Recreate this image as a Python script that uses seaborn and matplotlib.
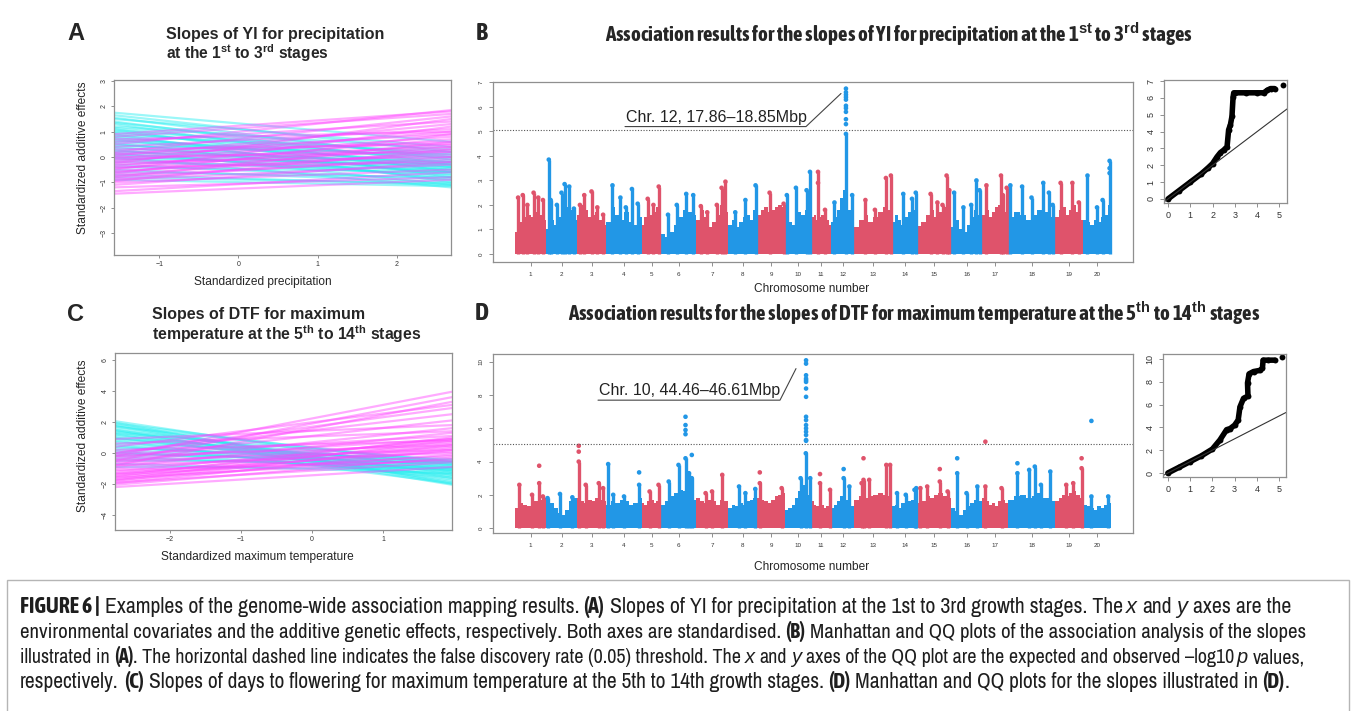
import numpy as np
import pandas as pd
import matplotlib
matplotlib.use("Agg")
import matplotlib.pyplot as plt
import seaborn as sns
from matplotlib import font_manager
from matplotlib.font_manager import FontProperties
from matplotlib.patches import Rectangle

W, H = 1356, 711

# --- PANEL A / C : reaction norms (effect at the two ends of the covariate range) ---
A_ENV = [-1.57, 2.68]
A_NEG_LEFT = [1.75, 1.65, 1.55, 1.5, 1.4, 1.35, 1.3, 1.2, 1.15, 1.1, 1.05, 1.0, 0.95, 0.9, 0.85,
              0.8, 0.75, 0.7, 0.65, 0.6, 0.55, 0.5, 0.45, 0.4, 0.35, 0.3, 0.25, 0.2, 0.15, 0.1,
              0.05, 0.0, -0.05, -0.1, -0.2, -0.3, -0.4, -0.5, -0.6, -0.7, -0.8, -0.9]
A_NEG_RIGHT = [0.6, 0.2, -0.1, 0.4, -0.3, 0.0, -0.6, 0.3, -0.2, -0.8, 0.1, -0.4, -0.1, -1.0, 0.2,
               -0.5, -0.3, -0.7, 0.0, -0.2, -0.9, -0.4, 0.1, -0.6, -0.3, -1.1, -0.5, -0.2, -0.8, -0.4,
               -0.6, -1.2, -0.3, -0.7, -0.5, -0.9, -0.6, -1.0, -0.8, -1.1, -1.05, -1.15]
A_POS_LEFT = [-1.45, -1.35, -1.2, -1.1, -1.0, -0.95, -0.9, -0.85, -0.8, -0.75, -0.7, -0.65, -0.6,
              -0.55, -0.5, -0.45, -0.4, -0.35, -0.3, -0.25, -0.2, -0.15, -0.1, -0.05, 0.0, 0.05,
              0.1, 0.15, 0.2, 0.3, 0.4, 0.5, 0.6, 0.7, 0.8, 0.9]
A_POS_RIGHT = [-0.9, -0.6, -0.8, -0.2, -0.5, 0.3, -0.3, 0.0, 0.6, -0.1, 0.2, 0.9, 0.4, 0.1, 1.2,
               0.5, -0.2, 0.7, 0.3, 1.5, 0.0, 0.8, 0.4, 1.0, 0.2, 1.3, 0.6, 0.9, 1.6, 0.5, 1.1,
               1.85, 1.4, 1.0, 1.7, 1.8]

C_ENV = [-2.77, 1.97]
C_NEG_LEFT = [2.05, 1.95, 1.9, 1.8, 1.75, 1.7, 1.6, 1.5, 1.45, 1.4, 1.3, 1.25, 1.2, 1.1, 1.0, 0.95,
              0.9, 0.8, 0.7, 0.6, 0.5, 0.4, 0.3, 0.2, 0.1, 0.0, -0.1, -0.2, -0.35, -0.5, -0.7, -0.9]
C_NEG_RIGHT = [-1.2, -2.0, -0.8, -1.6, -1.9, -0.6, -1.4, -2.05, -1.0, -1.7, -0.5, -1.3, -1.8, -0.9,
               -1.5, -0.7, -1.1, -1.95, -0.6, -1.2, -1.6, -0.8, -0.4, -1.0, -1.4, -0.7, -0.5, -1.1,
               -0.9, -0.6, -1.3, -1.0]
C_POS_LEFT = [-2.2, -2.05, -1.95, -1.9, -1.8, -1.75, -1.7, -1.6, -1.55, -1.5, -1.4, -1.35, -1.3,
              -1.2, -1.1, -1.0, -0.9, -0.8, -0.7, -0.6, -0.5, -0.4, -0.3, -0.2, -0.1, 0.0, 0.2,
              0.4, 0.6, 0.9, -0.5, -0.2, 0.0, -0.8]
C_POS_RIGHT = [-0.9, -0.3, 0.2, -0.6, 0.5, -0.1, 0.8, -0.4, 0.3, 1.0, -0.2, 0.6, 0.1, 0.9, -0.5,
               0.4, 1.3, 0.0, 0.7, 1.6, 0.2, 0.9, 2.1, 0.5, 1.1, 2.5, 0.8, 3.1, 1.4, 1.8, 3.6,
               3.95, 2.9, 3.3]

# --- MANHATTAN : chromosome sizes (SNP index units) ---
CHROMS = list(range(1, 21))
CHR_WIDTH = [31, 31, 29, 36, 19, 35, 32, 29, 28, 26, 20, 23, 38, 25, 34, 31, 26, 47, 28, 28]

# top of the dense -log10 p cloud along each chromosome (8 segments each)
B_BULK = [[0.9, 1.3, 1.5, 1.6, 1.5, 1.7, 1.6, 1.4], [1.0, 1.4, 1.2, 1.5, 1.7, 1.9, 1.8, 1.4],
          [1.6, 2.0, 1.8, 1.5, 1.6, 1.7, 1.4, 1.2], [1.3, 1.9, 1.6, 1.4, 1.7, 1.3, 1.2, 1.5],
          [1.2, 1.5, 1.4, 1.6, 1.8, 1.7, 1.9, 1.3], [0.8, 0.7, 0.9, 1.2, 1.5, 1.8, 1.7, 1.6],
          [1.4, 1.8, 1.5, 1.1, 1.3, 1.6, 2.0, 1.7], [1.2, 1.4, 1.1, 1.3, 1.5, 1.6, 1.4, 1.8],
          [1.6, 1.8, 1.9, 1.7, 1.8, 1.9, 2.0, 1.9], [1.0, 1.3, 1.2, 1.5, 1.7, 1.6, 1.8, 1.9],
          [1.5, 1.6, 1.4, 1.5, 1.6, 1.3, 1.4, 1.2], [1.3, 1.5, 1.8, 2.3, 2.6, 2.2, 1.8, 1.4],
          [1.1, 1.4, 1.6, 1.3, 1.5, 1.7, 1.9, 1.8], [1.3, 1.6, 1.4, 1.2, 1.5, 1.7, 1.6, 1.8],
          [1.15, 1.3, 1.6, 1.8, 1.5, 1.7, 1.9, 1.6], [1.1, 1.4, 1.0, 0.9, 1.2, 1.5, 1.8, 1.6],
          [1.6, 1.8, 1.5, 1.7, 1.9, 2.0, 1.8, 1.7], [1.5, 1.7, 1.6, 1.4, 1.6, 1.8, 1.7, 1.5],
          [1.5, 1.8, 1.9, 1.6, 1.8, 2.0, 1.7, 1.4], [1.4, 1.3, 1.2, 1.4, 1.3, 1.5, 1.6, 2.0]]
# spikes: (relative position in chromosome, -log10 p)
B_SPIKES = [
    [(0.1, 2.3), (0.25, 2.4), (0.4, 2.0), (0.6, 2.5), (0.75, 2.3), (0.9, 2.2)],
    [(0.09, 3.85), (0.15, 2.2), (0.35, 2.0), (0.5, 2.5), (0.6, 2.85), (0.75, 2.75), (0.9, 1.85)],
    [(0.1, 2.0), (0.25, 2.4), (0.5, 2.55), (0.7, 1.9), (0.9, 1.6)],
    [(0.18, 2.8), (0.4, 2.3), (0.55, 1.9), (0.72, 2.65), (0.88, 2.05)],
    [(0.3, 2.25), (0.6, 2.0), (0.88, 2.75)],
    [(0.2, 1.6), (0.45, 2.0), (0.72, 2.45), (0.92, 2.4)],
    [(0.15, 1.95), (0.35, 1.7), (0.65, 2.0), (0.8, 2.7), (0.92, 2.95)],
    [(0.25, 1.7), (0.6, 2.2), (0.95, 2.8)],
    [(0.45, 2.5), (0.95, 2.05)],
    [(0.07, 2.4), (0.42, 2.7), (0.83, 2.6), (0.96, 3.35)],
    [(0.35, 3.35), (0.7, 1.8)],
    [(0.15, 2.1), (0.65, 4.9), (0.92, 2.4)],
    [(0.3, 2.2), (0.55, 1.8), (0.84, 3.1), (0.97, 3.2)],
    [(0.45, 2.45), (0.8, 2.25), (0.95, 2.5)],
    [(0.4, 2.45), (0.6, 2.1), (0.75, 2.0), (0.87, 3.2), (0.95, 2.6)],
    [(0.1, 2.5), (0.4, 1.9), (0.65, 2.0), (0.82, 3.0), (0.92, 2.6)],
    [(0.17, 2.8), (0.73, 3.2), (0.8, 2.4), (0.95, 2.7)],
    [(0.05, 2.8), (0.3, 2.75), (0.5, 2.3), (0.75, 2.9), (0.87, 2.5), (0.95, 2.0)],
    [(0.2, 2.9), (0.62, 2.9), (0.85, 2.1)],
    [(0.16, 3.2), (0.5, 1.9), (0.7, 2.2), (0.95, 3.8)],
]
# isolated SNPs above the spikes: (chromosome, relative position, -log10 p)
B_DOTS = [(11, 0.35, 2.9), (12, 0.65, 5.3), (12, 0.65, 5.5), (12, 0.65, 5.8), (12, 0.65, 5.95),
          (12, 0.65, 6.05), (12, 0.65, 6.3), (12, 0.65, 6.4), (12, 0.65, 6.5), (12, 0.65, 6.6),
          (12, 0.65, 6.75), (20, 0.95, 3.5), (20, 0.95, 3.3)]
B_FDR = 5.05

D_BULK = [[1.2, 1.5, 1.4, 1.3, 1.5, 1.6, 1.7, 1.8], [1.7, 1.5, 1.2, 0.9, 0.8, 1.1, 1.6, 1.8],
          [1.8, 1.6, 1.5, 1.7, 1.6, 1.8, 1.7, 1.6], [1.4, 1.6, 1.5, 1.7, 1.6, 1.4, 1.5, 1.8],
          [1.5, 1.4, 1.6, 1.8, 1.7, 1.5, 1.6, 1.5], [1.4, 1.6, 1.9, 2.1, 2.3, 2.2, 1.9, 1.7],
          [1.8, 1.6, 1.5, 1.7, 1.6, 1.4, 1.7, 1.6], [1.2, 1.4, 1.3, 1.5, 1.4, 1.6, 1.7, 1.8],
          [1.8, 1.7, 1.6, 1.5, 1.7, 1.9, 2.0, 2.1], [1.1, 1.2, 1.4, 1.8, 2.2, 2.6, 2.3, 2.0],
          [1.6, 1.4, 1.3, 1.5, 1.4, 1.2, 1.3, 1.5], [1.2, 1.4, 1.6, 1.9, 2.0, 1.7, 1.5, 1.3],
          [1.7, 1.9, 1.8, 1.9, 2.0, 2.1, 2.0, 1.9], [1.3, 1.4, 1.2, 1.5, 1.3, 1.6, 1.7, 1.8],
          [1.5, 1.6, 1.9, 1.8, 2.0, 2.1, 1.9, 1.8], [1.2, 1.0, 0.8, 1.1, 1.3, 1.5, 1.7, 1.6],
          [1.8, 1.6, 1.4, 1.5, 1.3, 1.6, 1.7, 1.5], [1.7, 1.9, 2.0, 1.8, 1.9, 2.1, 1.8, 1.6],
          [1.6, 1.8, 2.0, 1.9, 2.1, 2.2, 2.0, 1.8], [1.4, 1.3, 1.2, 1.1, 1.3, 1.2, 1.4, 1.5]]
D_SPIKES = [
    [(0.14, 2.6), (0.55, 2.0), (0.78, 2.7), (0.9, 1.9)],
    [(0.05, 1.8), (0.45, 2.05), (0.85, 1.85)],
    [(0.06, 4.0), (0.3, 2.6), (0.75, 2.7), (0.9, 2.4)],
    [(0.06, 3.85), (0.2, 2.0), (0.5, 1.9), (0.92, 2.6)],
    [(0.4, 2.2), (0.87, 2.6)],
    [(0.22, 2.8), (0.5, 3.8), (0.7, 4.2), (0.8, 3.3), (0.88, 3.0)],
    [(0.3, 2.1), (0.5, 2.2), (0.82, 3.2)],
    [(0.38, 2.5), (0.6, 2.1), (0.94, 2.35)],
    [(0.1, 2.7), (0.88, 2.4)],
    [(0.6, 3.0), (0.8, 4.5), (0.97, 3.0)],
    [(0.45, 2.7), (0.95, 2.3)],
    [(0.55, 3.0), (0.8, 2.5)],
    [(0.2, 2.7), (0.25, 2.9), (0.4, 2.9), (0.85, 3.8), (0.95, 3.8)],
    [(0.2, 2.1), (0.55, 2.0), (0.9, 2.3), (0.97, 2.4)],
    [(0.1, 2.4), (0.3, 2.5), (0.67, 2.8), (0.9, 2.2)],
    [(0.2, 3.3), (0.5, 2.1), (0.85, 2.5)],
    [(0.13, 2.5), (0.75, 2.4)],
    [(0.2, 3.3), (0.45, 3.5), (0.57, 3.7), (0.7, 2.6), (0.9, 3.4)],
    [(0.4, 2.6), (0.65, 2.7), (0.95, 3.6)],
    [(0.3, 1.9), (0.9, 1.9)],
]
D_DOTS = [(1, 0.78, 3.75), (3, 0.06, 4.6), (3, 0.06, 4.95), (4, 0.92, 3.35), (6, 0.7, 5.65),
          (6, 0.7, 5.9), (6, 0.7, 6.2), (6, 0.7, 6.7), (6, 0.88, 4.4), (9, 0.1, 3.35),
          (10, 0.81, 5.25), (10, 0.81, 5.3), (10, 0.81, 5.6), (10, 0.81, 5.8), (10, 0.81, 6.0),
          (10, 0.81, 6.2), (10, 0.81, 6.5), (10, 0.81, 6.7), (10, 0.81, 7.9), (10, 0.81, 8.4),
          (10, 0.81, 8.8), (10, 0.81, 8.9), (10, 0.81, 9.0), (10, 0.81, 9.2), (10, 0.81, 9.9),
          (10, 0.81, 10.1), (11, 0.45, 3.25), (12, 0.55, 3.55), (13, 0.25, 4.2),
          (15, 0.67, 3.55), (16, 0.2, 4.2), (17, 0.13, 5.2), (18, 0.2, 3.9), (19, 0.95, 4.2),
          (20, 0.3, 6.45)]
D_FDR = 5.06

# --- QQ plots (expected vs observed -log10 p) ---
QQ_B_EXP = [0.0, 0.5, 1.0, 1.5, 1.8, 2.0, 2.2, 2.35, 2.5, 2.65, 2.72, 2.8, 2.87, 2.92, 2.95,
            3.0, 3.5, 4.0, 4.3, 4.45, 4.6, 4.78, 5.15]
QQ_B_OBS = [0.0, 0.5, 1.0, 1.5, 1.85, 2.1, 2.5, 2.75, 2.9, 3.1, 4.1, 4.4, 4.9, 6.05, 6.3,
            6.3, 6.3, 6.3, 6.3, 6.45, 6.55, 6.55, 6.76]
QQ_D_EXP = [0.0, 0.5, 1.0, 1.5, 2.0, 2.34, 2.64, 2.8, 3.0, 3.16, 3.24, 3.4, 3.6, 3.58, 3.65,
            3.85, 4.13, 4.25, 4.28, 4.5, 4.8, 5.13]
QQ_D_OBS = [0.0, 0.5, 1.0, 1.5, 2.1, 2.9, 3.8, 3.9, 4.2, 4.65, 5.8, 6.55, 6.75, 7.9, 8.7,
            8.9, 9.0, 9.2, 9.9, 9.9, 9.9, 10.15]

RED, BLUE = "#DF536B", "#2297E6"
SLOPE_PAL = {"neg": "#22EEF0", "pos": "#FF44FF"}
FRAME = "#8f8f8f"

sns.set_theme(style="white")
plt.rcParams["font.family"] = ["Liberation Sans", "DejaVu Sans"]
plt.rcParams["mathtext.fontset"] = "custom"
plt.rcParams["mathtext.rm"] = "Liberation Sans"
plt.rcParams["mathtext.bf"] = "Liberation Sans:bold"


# --- pick a condensed face (regular + bold) if one is installed ---
def _num(v, table):
    return v if isinstance(v, (int, float)) else table.get(v, 500 if table is font_manager.stretch_dict else 400)


cond = [f for f in font_manager.fontManager.ttflist
        if (("Condensed" in f.name or "Narrow" in f.name)
            or _num(f.stretch, font_manager.stretch_dict) < 500)
        and f.style == "normal" and "Mono" not in f.name and "Serif" not in f.name
        and "CJK" not in f.name and "Extra" not in f.name and "Semi" not in f.name]


def _pick(target):
    if not cond:
        return None
    best = min(cond, key=lambda f: (abs(_num(f.weight, font_manager.weight_dict) - target),
                                    _num(f.stretch, font_manager.stretch_dict), f.name))
    return FontProperties(fname=best.fname)


_reg, _bold = _pick(400), _pick(700)
if _bold is None or _reg is None or _bold.get_file() == _reg.get_file():
    _bold = FontProperties(family="Liberation Sans", weight="bold")
if _reg is None:
    _reg = FontProperties(family="Liberation Sans")
COND = {"normal": _reg, "bold": _bold,
        "italic": FontProperties(family="Liberation Sans", style="italic")}


def cfont(kind="normal", size=10):
    fp = COND[kind].copy()
    fp.set_size(size)
    return fp


def px_axes(fig, left, top, right, bottom):
    return fig.add_axes([left / W, 1 - bottom / H, (right - left) / W, (bottom - top) / H])


def r_style(ax, size=5, length=2.5, pad=2):
    for sp in ax.spines.values():
        sp.set_color(FRAME)
        sp.set_linewidth(0.9)
    ax.tick_params(direction="out", length=length, width=0.7, color=FRAME, labelsize=size,
                   labelcolor="#333333", pad=pad, bottom=True, left=True)
    ax.tick_params(axis="y", labelrotation=90)
    for lab in ax.get_yticklabels():
        lab.set_va("center")
    ax.set_xlabel("")
    ax.set_ylabel("")


def fit_text(fig, r, x, y, s, width, size=10, rot=0, **kw):
    t = fig.text(x / W, 1 - y / H, s, rotation=rot, **kw)
    t.set_fontsize(size)
    bb = t.get_window_extent(r)
    t.set_fontsize(size * width / (bb.height if rot else bb.width))
    return t


def slope_panel(ax, env, neg_left, neg_right, pos_left, pos_right, ylim, xticks, yticks):
    rows = []
    for i, (l, rr) in enumerate(zip(neg_left, neg_right)):
        rows += [("neg", i, env[0], l), ("neg", i, env[1], rr)]
    for i, (l, rr) in enumerate(zip(pos_left, pos_right)):
        rows += [("pos", 500 + i, env[0], l), ("pos", 500 + i, env[1], rr)]
    df = pd.DataFrame(rows, columns=["grp", "line", "x", "y"])
    sns.lineplot(data=df, x="x", y="y", hue="grp", units="line", estimator=None,
                 palette=SLOPE_PAL, lw=1.6, alpha=0.45, legend=False, sort=False, ax=ax)
    ax.set_xlim(env)
    ax.set_ylim(ylim)
    ax.set_xticks(xticks)
    ax.set_yticks(yticks)
    r_style(ax)


def manhattan(ax, bulk, spikes, dots, fdr, ylim, yticks):
    starts = np.concatenate([[0], np.cumsum(CHR_WIDTH)[:-1]])
    rows = []
    for c in range(len(CHROMS)):
        col = RED if c % 2 == 0 else BLUE
        lv = bulk[c]
        edges = starts[c] + np.linspace(0, 1, len(lv) + 1) * CHR_WIDTH[c]
        ax.fill_between(edges, 0, list(lv) + [lv[-1]], step="post", color=col, lw=0)
        sx = [starts[c] + p * CHR_WIDTH[c] for p, h in spikes[c]]
        sh = [h for p, h in spikes[c]]
        ax.vlines(sx, 0, sh, color=col, lw=2.4)
        rows += [(x, h, c % 2) for x, h in zip(sx, sh)]
    for ch, p, h in dots:
        c = ch - 1
        rows.append((starts[c] + p * CHR_WIDTH[c], h, c % 2))
    df = pd.DataFrame(rows, columns=["pos", "logp", "par"])
    sns.scatterplot(data=df, x="pos", y="logp", hue="par", palette={0: RED, 1: BLUE},
                    s=11, linewidth=0, legend=False, ax=ax)
    ax.axhline(fdr, color="#555555", lw=0.8, ls=(0, (1, 1.5)))
    ax.set_xlim(-22, sum(CHR_WIDTH) + 22)
    ax.set_ylim(ylim)
    ax.set_xticks(starts + np.array(CHR_WIDTH) / 2)
    ax.set_xticklabels([str(c) for c in CHROMS])
    ax.set_yticks(yticks)
    r_style(ax, size=4.5, length=3, pad=4)
    return starts


def qq_panel(ax, exp, obs, xlim, ylim, yticks):
    df = pd.DataFrame({"exp": exp, "obs": obs})
    sns.lineplot(data=df.iloc[:-1], x="exp", y="obs", color="black", lw=4, sort=False,
                 estimator=None, ax=ax)
    sns.scatterplot(data=df, x="exp", y="obs", color="black", s=18, linewidth=0, ax=ax)
    ax.axline((0, 0), slope=1, color="#333333", lw=0.8)
    ax.set_xlim(xlim)
    ax.set_ylim(ylim)
    ax.set_xticks(range(6))
    ax.set_yticks(yticks)
    r_style(ax, size=6.5, length=3, pad=3)


fig = plt.figure(figsize=(W / 100, H / 100), dpi=100)
r = fig.canvas.get_renderer()

axA = px_axes(fig, 114, 80, 451, 255)
slope_panel(axA, A_ENV, A_NEG_LEFT, A_NEG_RIGHT, A_POS_LEFT, A_POS_RIGHT,
            (-3.87, 3.04), [-1, 0, 1, 2], range(-3, 4))
axC = px_axes(fig, 115, 353, 452, 530)
slope_panel(axC, C_ENV, C_NEG_LEFT, C_NEG_RIGHT, C_POS_LEFT, C_POS_RIGHT,
            (-4.97, 6.45), [-2, -1, 0, 1], [-4, -2, 0, 2, 4, 6])

axB = px_axes(fig, 493, 82, 1133, 262)
manhattan(axB, B_BULK, B_SPIKES, B_DOTS, B_FDR, (-0.33, 7.02), range(0, 8))
axD = px_axes(fig, 493, 354, 1133, 533)
manhattan(axD, D_BULK, D_SPIKES, D_DOTS, D_FDR, (-0.3, 10.48), range(0, 11, 2))

axQB = px_axes(fig, 1164, 80, 1287, 203)
qq_panel(axQB, QQ_B_EXP, QQ_B_OBS, (-0.18, 5.34), (-0.24, 7.06), range(0, 8))
axQD = px_axes(fig, 1163, 354, 1286, 477)
qq_panel(axQD, QQ_D_EXP, QQ_D_OBS, (-0.22, 5.31), (-0.35, 10.44), range(0, 11, 2))

# peak labels
for ax, txt, x0, y0, x1, y1, x2, y2 in [
        (axB, "Chr. 12, 17.86\u201318.85Mbp", 110, 5.2, 291, 5.2, 326, 6.55),
        (axD, "Chr. 10, 44.46\u201346.61Mbp", 83, 7.7, 265, 7.7, 281, 9.6)]:
    ax.text(x0 + 1, y0 + 0.08 * (ax.get_ylim()[1] / 7), txt, fontsize=11.5, color="#222222",
            ha="left", va="bottom")
    ax.plot([x0, x1, x2], [y0, y1, y2], color="#444444", lw=0.8)

# axis labels
fit_text(fig, r, 263, 282, "Standardized precipitation", 138, ha="center", va="center")
fit_text(fig, r, 83, 158, "Standardized additive effects", 153, rot=90, ha="center", va="center")
fit_text(fig, r, 257, 557, "Standardized maximum temperature", 193, ha="center", va="center")
fit_text(fig, r, 83, 436, "Standardized additive effects", 153, rot=90, ha="center", va="center")
fit_text(fig, r, 812, 289, "Chromosome number", 116, ha="center", va="center")
fit_text(fig, r, 812, 567, "Chromosome number", 116, ha="center", va="center")

# panel letters and titles
fig.text(76 / W, 1 - 33 / H, "A", fontsize=17, fontweight="bold", ha="center", va="center")
fig.text(76 / W, 1 - 315 / H, "C", fontsize=17, fontweight="bold", ha="center", va="center")
fig.text(482 / W, 1 - 33 / H, "B", fontproperties=cfont("bold", 18), ha="center", va="center")
fig.text(482 / W, 1 - 313 / H, "D", fontproperties=cfont("bold", 18), ha="center", va="center")
fit_text(fig, r, 166, 35, "Slopes of YI for precipitation", 217, fontweight="bold",
         ha="left", va="center")
fit_text(fig, r, 166, 53, r"at the 1$^{\mathbf{st}}$ to 3$^{\mathbf{rd}}$ stages", 163,
         fontweight="bold", ha="left", va="center")
fit_text(fig, r, 152, 315, "Slopes of DTF for maximum", 213, fontweight="bold",
         ha="left", va="center")
fit_text(fig, r, 152, 334, r"temperature at the 5$^{\mathbf{th}}$ to 14$^{\mathbf{th}}$ stages", 270,
         fontweight="bold", ha="left", va="center")
fit_text(fig, r, 605, 34, r"Association results for the slopes of YI for precipitation at the "
         r"1$^{\mathbf{st}}$ to 3$^{\mathbf{rd}}$ stages", 590, fontproperties=cfont("bold"),
         ha="left", va="center")
fit_text(fig, r, 568, 313, r"Association results for the slopes of DTF for maximum temperature "
         r"at the 5$^{\mathbf{th}}$ to 14$^{\mathbf{th}}$ stages", 692,
         fontproperties=cfont("bold"), ha="left", va="center")

# caption
CAPTION = [
    [("FIGURE 6 |", "bold"), (" Examples of the genome-wide association mapping results. ", "normal"),
     ("(A)", "bold"), (" Slopes of YI for precipitation at the 1st to 3rd growth stages. The ", "normal"),
     ("x", "italic"), (" and ", "normal"), ("y", "italic"), (" axes are the", "normal")],
    [("environmental covariates and the additive genetic effects, respectively. Both axes are "
      "standardised. ", "normal"), ("(B)", "bold"),
     (" Manhattan and QQ plots of the association analysis of the slopes", "normal")],
    [("illustrated in ", "normal"), ("(A)", "bold"),
     (". The horizontal dashed line indicates the false discovery rate (0.05) threshold. The ",
      "normal"), ("x", "italic"), (" and ", "normal"), ("y", "italic"),
     (" axes of the QQ plot are the expected and observed \u2013log10 ", "normal"),
     ("p", "italic"), (" values,", "normal")],
    [("respectively. ", "normal"), ("(C)", "bold"),
     (" Slopes of days to flowering for maximum temperature at the 5th to 14th growth stages. ",
      "normal"), ("(D)", "bold"), (" Manhattan and QQ plots for the slopes illustrated in ", "normal"),
     ("(D)", "bold"), (".", "normal")],
]
CAP_Y = [613, 638, 663, 688]
CAP_W = [1271, 1285, 1285, 1270]


def text_w(text, kind, size):
    t = fig.text(0, 0, text, fontproperties=cfont(kind, size))
    v = t.get_window_extent(r).width
    t.remove()
    return v


def seg_parts(s, kind, size):
    core = s.strip(" ")
    lead = len(s) - len(s.lstrip(" "))
    trail = len(s) - len(s.rstrip(" "))
    sp = text_w("a a", "normal", size) - text_w("aa", "normal", size)
    return core, lead * sp, text_w(core, kind, size), trail * sp


for segs, y, width in zip(CAPTION, CAP_Y, CAP_W):
    base = 12
    parts = [seg_parts(s, kind, base) for s, kind in segs]
    k = width / sum(a + b + c for _, a, b, c in parts)
    x = 20
    for (s, kind), (core, lead, cw, trail) in zip(segs, parts):
        x += lead * k
        fig.text(x / W, 1 - y / H, core, fontproperties=cfont(kind, base * k),
                 color="#1e1e1e", va="baseline", ha="left")
        x += (cw + trail) * k

fig.patches.append(Rectangle((7 / W, -0.05), (1349 - 7) / W, (1 - 580 / H) + 0.05,
                             transform=fig.transFigure, fill=False, edgecolor="#b5b5b5", lw=1))

fig.savefig("out.png", dpi=100)
